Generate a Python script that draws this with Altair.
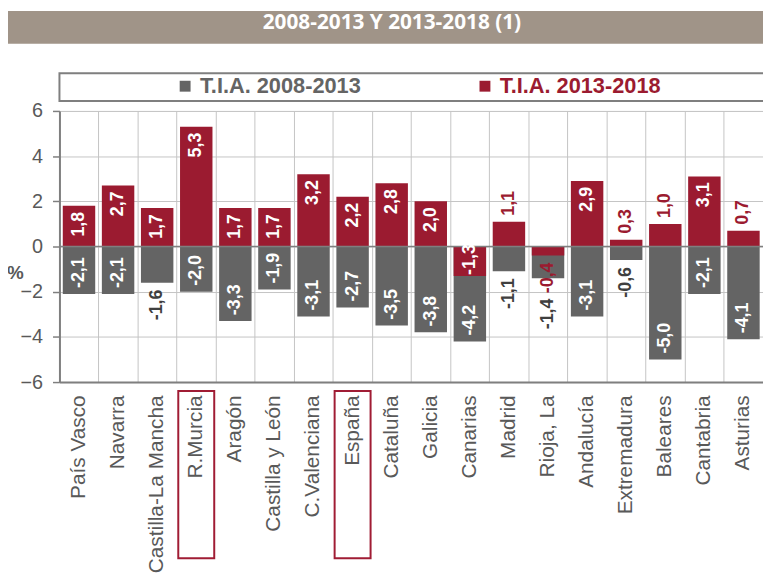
import altair as alt
import pandas as pd

regions = ["País Vasco", "Navarra", "Castilla-La Mancha", "R.Murcia", "Aragón",
           "Castilla y León", "C.Valenciana", "España", "Cataluña", "Galicia",
           "Canarias", "Madrid", "Rioja, La", "Andalucía", "Extremadura",
           "Baleares", "Cantabria", "Asturias"]
tia_2008_2013 = [-2.1, -2.1, -1.6, -2.0, -3.3, -1.9, -3.1, -2.7, -3.5, -3.8,
                 -4.2, -1.1, -1.4, -3.1, -0.6, -5.0, -2.1, -4.1]
tia_2013_2018 = [1.8, 2.7, 1.7, 5.3, 1.7, 1.7, 3.2, 2.2, 2.8, 2.0,
                 -1.3, 1.1, -0.4, 2.9, 0.3, 1.0, 3.1, 0.7]
series_names = ["T.I.A. 2008-2013", "T.I.A. 2013-2018"]
highlighted = ["R.Murcia", "España"]
title_text = "2008-2013 Y 2013-2018 (1)"
y_ticks = [-6, -4, -2, 0, 2, 4, 6]

GRAY = "#646464"
RED = "#9B1B30"
TXT = "#595959"
AXC = "#7f7f7f"
W = 711
H = 274
FONT = "Liberation Sans"
S1, S2 = series_names

rows = []
for s, vals in zip(series_names, [tia_2008_2013, tia_2013_2018]):
    for r, v in zip(regions, vals):
        rows.append({"region": r, "series": s, "value": v})
df = pd.DataFrame(rows)
hl_df = pd.DataFrame({"region": highlighted})
title_df = pd.DataFrame({"t": [title_text]})

x_enc = alt.X("region:N", sort=regions,
              scale=alt.Scale(paddingInner=0, paddingOuter=0),
              axis=alt.Axis(title=None, labelAngle=270, labelFont=FONT, labelFontSize=21,
                            labelColor=TXT, labelPadding=13, ticks=False,
                            grid=True, bandPosition=0, gridColor="#c4c4c4", gridWidth=1,
                            domainColor=AXC, domainWidth=2, labelLimit=300))


def y_of(field):
    return alt.Y(field + ":Q", stack=None, scale=alt.Scale(domain=[-6, 6], nice=False),
                 axis=alt.Axis(values=y_ticks, title="%", titleAngle=0, titleX=-45, titleY=163,
                               titleFont=FONT, titleFontSize=19, titleFontWeight="bold",
                               titleColor=TXT, titleAlign="center", titleBaseline="middle",
                               labelFont=FONT, labelFontSize=20, labelColor=TXT, labelPadding=10,
                               tickSize=7, tickColor=AXC, tickWidth=1.5,
                               domainColor=AXC, domainWidth=2,
                               grid=True, gridColor="#c4c4c4", gridWidth=1))


title_band = alt.Chart(title_df).mark_rect(color="#A09488").encode(
    x=alt.value(-52), x2=alt.value(W + 5), y=alt.value(-101), y2=alt.value(-68))
title_txt = alt.Chart(title_df).mark_text(
    font="Open Sans", fontWeight="bold", fontSize=21, color="white",
    align="center", baseline="middle").encode(
    x=alt.value(336), y=alt.value(-89), text="t:N")
legend_box = alt.Chart(title_df).mark_rect(fill="white", stroke=AXC, strokeWidth=2).encode(
    x=alt.value(0), x2=alt.value(W + 5), y=alt.value(-38), y2=alt.value(-10))

bars = alt.Chart(df).mark_bar(width={"band": 0.83}).encode(
    x=x_enc, y=y_of("value"),
    color=alt.Color("series:N", scale=alt.Scale(domain=series_names, range=[GRAY, RED]),
                    legend=alt.Legend(title=None, orient="none", legendX=116, legendY=-36,
                                      direction="horizontal", symbolType="square",
                                      symbolSize=121, symbolStrokeWidth=0,
                                      labelFont=FONT, labelFontSize=22, labelFontWeight="bold",
                                      labelColor={"expr": "datum.label == '" + S1 + "' ? '" + GRAY + "' : '" + RED + "'"},
                                      columnPadding=114, labelOffset=4, padding=0, labelLimit=400)))

zero = alt.Chart(title_df).mark_rule(color=AXC, strokeWidth=1.5).encode(y=alt.datum(0))

boxes = alt.Chart(hl_df).mark_bar(width={"band": 0.92}, filled=False, stroke="#A01C34",
                                  strokeWidth=2).encode(
    x=x_enc, y=alt.value(H + 9), y2=alt.value(H + 178))

lab_base = alt.Chart(df).transform_calculate(
    lbl="(datum.value < 0 ? '-' : '') + replace(format(abs(datum.value), '.1f'), '.', ',')",
    inside="datum.series == '" + S1 + "' ? abs(datum.value) >= 1.85 : abs(datum.value) >= 1.25",
    rv="datum.series == '" + S2 + "' ? datum.value : -999",
).transform_joinaggregate(
    redval="max(rv)", groupby=["region"]
).transform_calculate(
    lcol="datum.inside ? 'white' : (datum.series == '" + S1 + "' ? '#3f3f3f' : '" + RED + "')",
    ly="(datum.series == '" + S1 + "' && !datum.inside && datum.redval < 0 && datum.redval > -1.25) ? min(datum.value, datum.redval - 1.6) : datum.value",
)


def lab(filt, align, dx):
    return lab_base.transform_filter(filt).mark_text(
        angle=270, align=align, baseline="middle", dx=dx,
        font=FONT, fontSize=18, fontWeight="bold").encode(
        x=x_enc, y=y_of("ly"), text="lbl:N", color=alt.Color("lcol:N", scale=None))


lab_a = lab("datum.value > 0 && datum.inside", "right", -6)
lab_b = lab("datum.value > 0 && !datum.inside", "left", 6)
lab_c1 = lab("datum.value < 0 && datum.inside && datum.series == '" + S1 + "'", "left", 6)
lab_c2 = lab("datum.value < 0 && datum.inside && datum.series == '" + S2 + "'", "left", 1)
lab_d = lab("datum.value < 0 && !datum.inside", "right", -7)

chart = alt.layer(title_band, title_txt, legend_box, bars, zero, boxes,
                  lab_a, lab_b, lab_c1, lab_c2, lab_d).properties(
    width=W, height=H,
    autosize=alt.AutoSizeParams(type="none"),
    padding={"left": 52, "top": 101, "right": 0, "bottom": 198},
).configure_view(strokeWidth=0).configure(font=FONT)

chart.save("out.html", embed_options={"renderer": "svg", "actions": False})
